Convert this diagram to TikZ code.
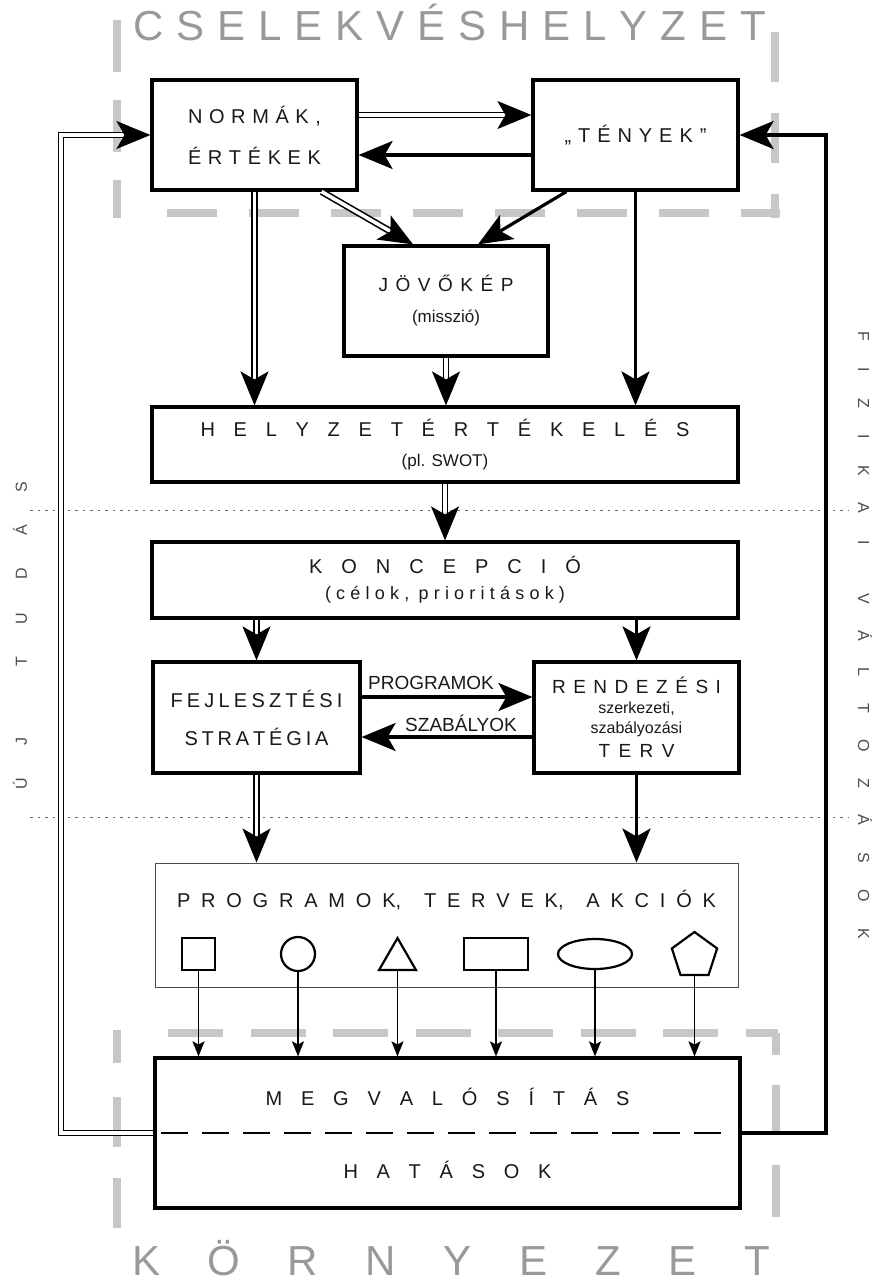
\documentclass[tikz,border=0pt]{standalone}
\usepackage{fontspec}
\setmainfont{Liberation Sans}
\usetikzlibrary{arrows.meta,shapes.geometric}
\newcommand{\spread}[2]{\makebox[#1][s]{#2}}
\newcommand{\fs}[2]{\fontsize{#1}{#2}\selectfont}

\begin{document}
\begin{tikzpicture}
        [
        x = 1pt, y = -1pt,
        box/.style     = {draw, fill=white, line width=3.2pt, inner sep=0pt,
                          align=center, text=black!90},
        dbl/.style     = {double, line width=1.6pt, double distance=3.6pt,
                          -{Stealth[length=34pt,width=28pt,inset=8pt]}},
        sgl/.style     = {line width=3.2pt,
                          -{Stealth[length=34pt,width=28pt,inset=8pt]}},
        drop/.style    = {line width=1.4pt,
                          -{Stealth[length=15pt,width=12pt,inset=3pt]}},
        shp/.style     = {draw, line width=2.2pt, inner sep=0pt},
        bar/.style     = {draw=black!22, line width=8pt},
        sep/.style     = {draw=black!60, line width=1pt,
                          dash pattern=on 2.5pt off 5pt},
        lbl/.style     = {text=black!90, font=\fs{19}{19}, inner xsep=5pt},
        bigword/.style = {text=black!40, font=\fs{42}{42}, inner sep=0pt,
                          anchor=base},
        side/.style    = {text=black!70, font=\fs{16}{16}, inner sep=0pt}
        ]
        \useasboundingbox (0,0) rectangle (881,1287);

        \draw [sep] (30,510) -- (848,510);
        \draw [sep] (30,817) -- (848,817);

        \draw [bar, dash pattern=on 52pt off 28pt] (117,20) -- (117,218);
        \draw [bar, dash pattern=on 50pt off 31pt] (775,32) -- (775,218);
        \draw [bar, dash pattern=on 50pt off 32pt] (167,213) -- (780,213);
        \draw [bar, dash pattern=on 55pt off 27.5pt] (168,1033) -- (778,1033);
        \draw [bar, dash pattern=on 33pt off 34pt on 50pt off 31pt on 50pt off 9pt]
                (117,1030) -- (117,1228);
        \draw [bar, dash pattern=on 22pt off 30pt on 48pt off 32pt on 52pt off 9pt]
                (776,1033) -- (776,1217);

        \node [bigword] (cselekv) at (449.5,41)
                {\spread{633pt}{C S E L E K V É S H E L Y Z E T}};
        \node [bigword] (kornyezet) at (451,1275)
                {\spread{638pt}{K Ö R N Y E Z E T}};
        \node [side, rotate=90] (ujtudas) at (20,635.5)
                {\spread{308pt}{Ú J \hspace{38pt}T U D Á S}};
        \node [side, rotate=-90] (fizikai) at (865,635)
                {\spread{608pt}{F I Z I K A I \hspace{22pt}V Á L T O Z Á S O K}};

        \node [box, minimum width=205pt, minimum height=110pt, font=\fs{20}{41}]
                (normak) at (254.5,135)
                {\spread{133pt}{N O R M Á K ,}\\ \spread{133pt}{É R T É K E K}};
        \node [box, minimum width=205pt, minimum height=110pt, font=\fs{20}{24}]
                (tenyek) at (635.5,135)
                {\spread{142pt}{„ T É N Y E K ”}};
        \node [box, minimum width=204pt, minimum height=110pt, font=\fs{19}{31}]
                (jovokep) at (446,301)
                {\spread{135pt}{J Ö V Ő K É P}\\ {\fs{17}{31}(misszió)}};
        \node [box, minimum width=586pt, minimum height=75pt, font=\fs{20}{30}]
                (helyzet) at (445,444.5)
                {\spread{489pt}{H E L Y Z E T É R T É K E L É S}\\
                 {\fs{17}{30}(pl. SWOT)}};
        \node [box, minimum width=586pt, minimum height=76pt, font=\fs{20}{26}]
                (koncepcio) at (445,580)
                {\spread{272pt}{K O N C E P C I Ó}\\
                 {\fs{18}{26}\spread{240pt}{( c é l o k , \hspace{4pt}p r i o r i t á s o k )}}};
        \node [box, minimum width=207pt, minimum height=111pt, font=\fs{20}{38}]
                (fejl) at (256.5,717.5)
                {\spread{172pt}{F E J L E S Z T É S I}\\ \spread{144pt}{S T R A T É G I A}};
        \node [box, minimum width=205pt, minimum height=111pt, font=\fs{19}{20}]
                (rendez) at (636.5,717.5)
                {\spread{169pt}{R E N D E Z É S I}\\
                 {\fs{16}{20}szerkezeti,}\\
                 {\fs{16}{20}szabályozási}\\[4pt]
                 \spread{76pt}{T E R V}};
        \node [box, line width=1pt, draw=black!70, minimum width=583pt,
                minimum height=124pt] (programok) at (446.5,925) {};
        \node [text=black!90, font=\fs{20}{24}] (progcim) at (446.5,900)
                {\spread{539pt}{P R O G R A M O K, \hspace{12pt}T E R V E K, \hspace{12pt}A K C I Ó K}};
        \node [box, minimum width=585pt, minimum height=150pt, font=\fs{20}{73}]
                (megval) at (447.5,1133)
                {\spread{364pt}{M E G V A L Ó S Í T Á S}\\ \spread{208pt}{H A T Á S O K}};
        \draw [line width=2.2pt, dash pattern=on 27pt off 14pt]
                ([xshift=8pt]megval.west) -- ([xshift=-10pt]megval.east);

        \node [shp, minimum width=33pt, minimum height=32pt] (s1) at (198.5,954) {};
        \node [shp, circle, minimum size=34pt] (s2) at (298,954) {};
        \node [shp, regular polygon, regular polygon sides=3, minimum size=42.7pt]
                (s3) at (397.5,959.4) {};
        \node [shp, minimum width=64pt, minimum height=32pt] (s4) at (496,954) {};
        \node [shp, ellipse, minimum width=74pt, minimum height=30pt] (s5) at (595,954) {};
        \node [shp, regular polygon, regular polygon sides=5, minimum size=47.6pt]
                (s6) at (694.5,955.8) {};

        \foreach \i in {1,...,6}
                \path (s\i.south) edge [drop] (s\i.south |- megval.north);

        \path
        ([yshift=20pt]normak.east)   edge [dbl] ([yshift=20pt]tenyek.west)
        ([yshift=-20pt]tenyek.west)  edge [sgl] ([yshift=-20pt]normak.east)
        ([xshift=-37pt]normak.south east) edge [dbl] ([xshift=-33pt]jovokep.north)
        ([xshift=35pt]tenyek.south west)  edge [sgl] ([xshift=32pt]jovokep.north)
        (normak.south)  edge [dbl] (normak.south |- helyzet.north)
        (tenyek.south)  edge [sgl] (tenyek.south |- helyzet.north)
        (jovokep.south) edge [dbl] (jovokep.south |- helyzet.north)
        (helyzet.south) edge [dbl] (koncepcio.north)
        (koncepcio.south -| fejl.north)   edge [dbl] (fejl.north)
        (koncepcio.south -| rendez.north) edge [sgl] (rendez.north)
        ([yshift=20.5pt]fejl.east)
                edge [sgl] node [lbl, pos=0, anchor=south west, inner ysep=6pt] {PROGRAMOK}
                ([yshift=20.5pt]rendez.west)
        ([yshift=-19.5pt]rendez.west)
                edge [sgl] node [lbl, pos=0, anchor=south east, inner xsep=14pt,
                                 inner ysep=4pt] {SZABÁLYOK}
                ([yshift=-19.5pt]fejl.east)
        (fejl.south)   edge [dbl] (fejl.south |- programok.north)
        (rendez.south) edge [sgl] (rendez.south |- programok.north);

        \coordinate (bal)  at (61,135);
        \coordinate (jobb) at (826,135);
        \draw [dbl] (megval.west) -| (bal) -- (normak.west);
        \draw [sgl] (megval.east) -| (jobb) -- (tenyek.east);
\end{tikzpicture}
\end{document}
